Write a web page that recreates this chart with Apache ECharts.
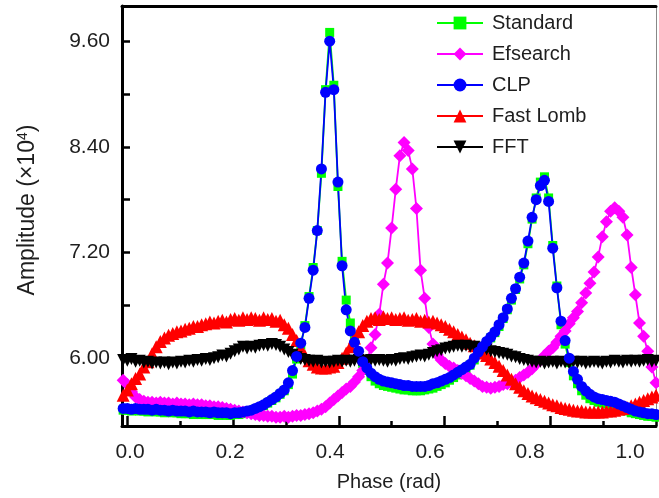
<!DOCTYPE html>
<html>
<head>
<meta charset="utf-8">
<script src="https://cdn.jsdelivr.net/npm/echarts@6/dist/echarts.min.js"></script>
<style>
html,body{margin:0;padding:0;background:#fff;}
#chart{width:659px;height:498px;}
</style>
</head>
<body>
<div id="chart"></div>
<script>
// Phase grid: 130 bins of width 1/128, starting one bin before 0
const PHASE_STEP = 1 / 128;
const PHASES = Array.from({length: 130}, (_, i) => (i - 1) * PHASE_STEP);

const SERIES_NAMES = ['Standard', 'Efsearch', 'CLP', 'Fast Lomb', 'FFT'];

const STANDARD = [
  5.41,5.41,5.40,5.41,5.40,5.40,5.39,5.40,5.39,5.39,
  5.38,5.39,5.38,5.38,5.37,5.37,5.37,5.36,5.37,5.36,
  5.36,5.36,5.36,5.35,5.36,5.35,5.35,5.36,5.36,5.37,
  5.38,5.40,5.42,5.44,5.46,5.49,5.52,5.55,5.59,5.63,
  5.70,5.82,5.99,6.15,6.37,6.70,7.03,7.45,8.10,9.05,
  9.70,9.10,7.95,7.10,6.66,6.40,6.20,6.06,5.94,5.86,
  5.79,5.74,5.71,5.69,5.68,5.67,5.66,5.65,5.64,5.64,
  5.63,5.63,5.63,5.64,5.65,5.66,5.68,5.70,5.72,5.75,
  5.78,5.81,5.85,5.88,5.92,5.98,6.05,6.11,6.17,6.23,
  6.29,6.36,6.45,6.55,6.66,6.78,6.90,7.06,7.30,7.58,
  7.82,8.00,8.06,7.82,7.28,6.82,6.38,6.16,5.95,5.80,
  5.71,5.63,5.58,5.54,5.52,5.50,5.49,5.48,5.47,5.46,
  5.44,5.42,5.40,5.38,5.37,5.36,5.35,5.34,5.34,5.33
];

const EFSEARCH = [
  5.75,5.70,5.62,5.56,5.53,5.51,5.50,5.50,5.49,5.50,
  5.49,5.49,5.48,5.49,5.48,5.48,5.47,5.48,5.47,5.47,
  5.46,5.46,5.45,5.45,5.44,5.43,5.42,5.41,5.40,5.39,
  5.38,5.37,5.36,5.35,5.35,5.34,5.34,5.33,5.33,5.34,
  5.33,5.34,5.35,5.35,5.36,5.37,5.38,5.40,5.42,5.45,
  5.49,5.53,5.57,5.61,5.65,5.68,5.73,5.79,5.86,5.97,
  6.12,6.27,6.50,6.84,7.08,7.48,7.92,8.30,8.45,8.36,
  8.15,7.70,7.00,6.68,6.35,6.16,6.04,5.98,5.94,5.91,
  5.89,5.86,5.83,5.80,5.77,5.74,5.71,5.68,5.67,5.66,
  5.67,5.68,5.70,5.71,5.73,5.75,5.78,5.81,5.84,5.88,
  5.93,5.98,6.03,6.08,6.12,6.18,6.25,6.31,6.39,6.46,
  6.53,6.63,6.74,6.85,6.98,7.15,7.38,7.55,7.67,7.71,
  7.67,7.60,7.40,7.03,6.72,6.40,6.25,6.08,5.90,5.72
];

const CLP = [
  5.43,5.43,5.42,5.43,5.42,5.42,5.42,5.41,5.42,5.41,
  5.41,5.40,5.41,5.40,5.40,5.40,5.39,5.40,5.39,5.39,
  5.39,5.38,5.39,5.38,5.38,5.38,5.37,5.38,5.38,5.39,
  5.40,5.41,5.43,5.45,5.47,5.50,5.53,5.56,5.60,5.64,
  5.72,5.86,6.02,6.17,6.35,6.68,7.00,7.45,8.15,9.02,
  9.60,9.05,8.00,7.05,6.55,6.31,6.18,6.08,5.96,5.89,
  5.83,5.79,5.76,5.74,5.73,5.72,5.71,5.70,5.69,5.69,
  5.68,5.68,5.68,5.68,5.69,5.71,5.72,5.74,5.76,5.78,
  5.81,5.84,5.87,5.90,5.93,6.00,6.07,6.13,6.19,6.24,
  6.30,6.38,6.46,6.56,6.68,6.79,6.92,7.08,7.33,7.60,
  7.80,7.96,8.02,7.78,7.25,6.80,6.42,6.20,6.00,5.85,
  5.76,5.68,5.63,5.59,5.56,5.54,5.53,5.52,5.51,5.50,
  5.48,5.46,5.44,5.42,5.40,5.39,5.38,5.37,5.37,5.36
];

const FAST_LOMB = [
  5.58,5.64,5.71,5.77,5.82,5.90,5.96,6.05,6.13,6.19,
  6.23,6.26,6.28,6.30,6.31,6.33,6.34,6.36,6.36,6.38,
  6.39,6.41,6.40,6.42,6.43,6.41,6.44,6.45,6.43,6.46,
  6.44,6.46,6.45,6.43,6.46,6.44,6.45,6.42,6.43,6.38,
  6.34,6.27,6.20,6.11,6.03,5.97,5.93,5.90,5.89,5.89,
  5.90,5.91,5.95,6.00,6.06,6.13,6.23,6.30,6.37,6.42,
  6.45,6.46,6.44,6.47,6.45,6.46,6.44,6.45,6.46,6.43,
  6.44,6.45,6.42,6.43,6.41,6.42,6.40,6.38,6.36,6.33,
  6.30,6.27,6.24,6.21,6.17,6.14,6.10,6.06,6.03,5.99,
  5.95,5.91,5.86,5.81,5.76,5.71,5.67,5.63,5.60,5.57,
  5.55,5.53,5.51,5.49,5.47,5.46,5.44,5.43,5.42,5.41,
  5.40,5.40,5.39,5.39,5.39,5.39,5.39,5.40,5.40,5.41,
  5.42,5.43,5.44,5.46,5.48,5.50,5.52,5.54,5.56,5.58
];

const FFT = [
  5.98,5.97,5.99,5.96,5.97,5.95,5.96,5.94,5.95,5.94,
  5.95,5.93,5.95,5.94,5.96,5.95,5.97,5.96,5.98,5.97,
  5.99,5.98,6.00,6.01,6.03,6.02,6.05,6.08,6.10,6.13,
  6.11,6.13,6.12,6.14,6.15,6.14,6.16,6.15,6.13,6.10,
  6.07,6.04,6.01,5.99,5.98,5.97,5.96,5.97,5.95,5.96,
  5.95,5.96,5.97,5.96,5.97,5.96,5.97,5.98,5.96,5.97,
  5.98,5.97,5.98,5.97,5.96,5.98,5.97,5.99,6.00,5.99,
  6.01,6.02,6.03,6.02,6.04,6.06,6.08,6.09,6.11,6.12,
  6.13,6.14,6.13,6.14,6.13,6.13,6.12,6.11,6.10,6.08,
  6.07,6.06,6.05,6.04,6.02,6.01,5.99,5.98,5.97,5.96,
  5.95,5.96,5.94,5.95,5.96,5.94,5.96,5.95,5.94,5.96,
  5.95,5.96,5.94,5.95,5.96,5.95,5.94,5.96,5.95,5.97,
  5.96,5.95,5.97,5.96,5.97,5.96,5.97,5.98,5.96,5.97
];

const X_MAJOR_TICKS = [0.0, 0.2, 0.4, 0.6, 0.8, 1.0];
const X_MINOR_TICKS = [0.1, 0.3, 0.5, 0.7, 0.9];
const X_LABELS = [0.0, 0.2, 0.4, 0.6, 0.8, 1.0];
const Y_TICKS = [6.0, 6.6, 7.2, 7.8, 8.4, 9.0, 9.6];
const Y_LABELS = [6.0, 7.2, 8.4, 9.6];

const FONT = '"Liberation Sans", Arial, sans-serif';
const TXT = '#1e1e1e';
const X_MIN = -0.01, X_MAX = 1.0, Y_MIN = 5.23, Y_MAX = 10.0;
// the printed x tick labels of the original sit on a slightly narrower span than its tick marks
const XLAB_MIN = -0.016, XLAB_MAX = 1.052;

function pts(vals) { return PHASES.map((p, i) => [p, vals[i]]); }

const chart = echarts.init(document.getElementById('chart'), null, {renderer: 'canvas'});

function mkSeries(name, vals, color, symbol, size, rotate) {
  return {
    name: name, type: 'line', data: pts(vals),
    xAxisIndex: 0, yAxisIndex: 0,
    symbol: symbol, symbolSize: size, symbolRotate: rotate || 0,
    showAllSymbol: true,
    lineStyle: {color: color, width: 1.8},
    itemStyle: {color: color, borderWidth: 0},
    emphasis: {disabled: true},
    clip: true
  };
}

chart.setOption({
  animation: false,
  backgroundColor: '#fff',
  grid: {left: 122, right: 3, top: 6, bottom: 72, containLabel: false},
  legend: {
    data: SERIES_NAMES,
    orient: 'vertical',
    left: 431, top: 8,
    itemWidth: 46, itemHeight: 16, itemGap: 11,
    textStyle: {fontFamily: FONT, fontSize: 20, color: TXT, lineHeight: 20, padding: [0, 0, 0, 4]},
    selectedMode: false
  },
  xAxis: [
    {
      type: 'value', min: X_MIN, max: X_MAX, position: 'bottom',
      axisLine: {show: true, onZero: false, lineStyle: {color: '#000', width: 3}},
      axisTick: {show: true, inside: true, length: 10, customValues: X_MAJOR_TICKS, lineStyle: {color: '#000', width: 2.5}},
      axisLabel: {show: false},
      splitLine: {show: false},
      name: 'Phase (rad)', nameLocation: 'middle', nameGap: 46,
      nameTextStyle: {fontFamily: FONT, fontSize: 20, color: TXT}
    },
    {
      type: 'value', min: X_MIN, max: X_MAX, position: 'bottom',
      axisLine: {show: false},
      axisTick: {show: true, inside: true, length: 5, customValues: X_MINOR_TICKS, lineStyle: {color: '#000', width: 2.5}},
      axisLabel: {show: false}, splitLine: {show: false}
    },
    {
      type: 'value', min: X_MIN, max: X_MAX, position: 'top',
      axisLine: {show: true, lineStyle: {color: '#000', width: 3}},
      axisTick: {show: false}, axisLabel: {show: false}, splitLine: {show: false}
    },
    {
      type: 'value', min: XLAB_MIN, max: XLAB_MAX, position: 'bottom',
      axisLine: {show: false}, axisTick: {show: false}, splitLine: {show: false},
      axisLabel: {show: true, customValues: X_LABELS, margin: 16, fontFamily: FONT, fontSize: 21, color: TXT,
                  formatter: v => v.toFixed(1)}
    }
  ],
  yAxis: [
    {
      type: 'value', min: Y_MIN, max: Y_MAX, position: 'left',
      axisLine: {show: true, onZero: false, lineStyle: {color: '#000', width: 3}},
      axisTick: {show: true, inside: true, length: 8, customValues: Y_TICKS, lineStyle: {color: '#000', width: 2.5}},
      axisLabel: {show: true, customValues: Y_LABELS, margin: 12, fontFamily: FONT, fontSize: 21, color: TXT,
                  formatter: v => v.toFixed(2)},
      splitLine: {show: false},
      name: 'Amplitude (×10{sup|4})', nameLocation: 'middle', nameGap: 83, nameRotate: 90,
      nameTextStyle: {fontFamily: FONT, fontSize: 23, color: TXT, padding: [0, 0, 0, 12],
        rich: {sup: {fontFamily: FONT, fontSize: 14, color: TXT, verticalAlign: 'top', padding: [0, 0, 9, 0]}}}
    },
    {
      type: 'value', min: Y_MIN, max: Y_MAX, position: 'right',
      axisLine: {show: true, onZero: false, lineStyle: {color: '#888', width: 1}},
      axisTick: {show: false}, axisLabel: {show: false}, splitLine: {show: false}
    }
  ],
  series: [
    mkSeries('Standard', STANDARD, '#00ff00', 'rect', 9),
    mkSeries('Efsearch', EFSEARCH, '#ff00ff', 'diamond', 13),
    mkSeries('Fast Lomb', FAST_LOMB, '#ff0000', 'triangle', 13),
    mkSeries('FFT', FFT, '#000000', 'triangle', 12, 180),
    mkSeries('CLP', CLP, '#0000ff', 'circle', 11)
  ]
});
</script>
</body>
</html>
